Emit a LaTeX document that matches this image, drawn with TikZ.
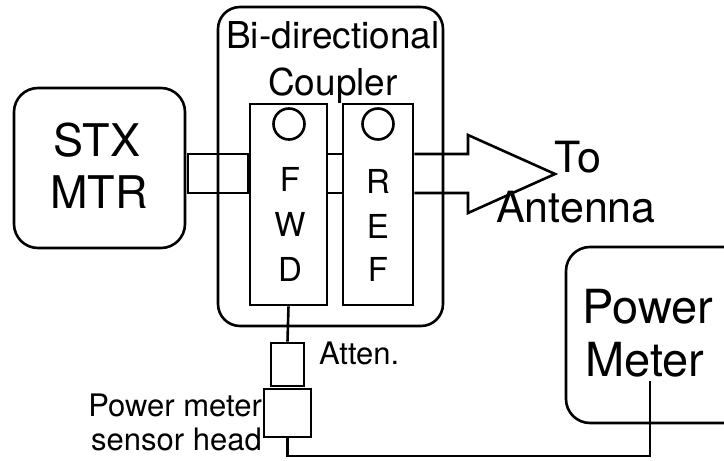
\documentclass[tikz,border=0pt]{standalone}
\usepackage{fontspec}
\setmainfont{TeX Gyre Heros}
\usetikzlibrary{positioning}
\tikzset{
  unit/.style={draw, line width=2.6pt, inner sep=0pt},
  rbox/.style={unit, rounded corners=24pt},
  sbox/.style={unit},
  wire/.style={line width=2.6pt, line join=miter},
  lbl/.style={inner sep=0pt, anchor=base},
  big/.style={font=\fontsize{45}{54}\selectfont},
  mid/.style={font=\fontsize{37}{44}\selectfont},
  sml/.style={font=\fontsize{31}{37}\selectfont},
  let/.style={font=\fontsize{33}{40}\selectfont},
}

\begin{document}
\begin{tikzpicture}[x=1pt, y=-1pt]
  \useasboundingbox (0,0) rectangle (724,461);
  \clip (0,0) rectangle (724,461);
  % boxes
  \node[rbox, minimum width=171pt, minimum height=160pt] (stx) at (99.5,168) {};
  \node[rbox, rounded corners=22pt, minimum width=225pt, minimum height=319pt] (cpl) at (330.5,166.5) {};
  \node[sbox, minimum width=77pt, minimum height=201pt] (fwd) at (288.5,204.5) {};
  \node[sbox, minimum width=70pt, minimum height=201pt] (ref) at (378,204.5) {};
  \node[rbox, minimum width=194pt, minimum height=176pt] (pm) at (663,335) {};
  \node[sbox, minimum width=33pt, minimum height=43pt] (att) at (287.5,364.5) {};
  \node[sbox, minimum width=47pt, minimum height=48pt] (head) at (287.5,413) {};
  % port circles
  \node[unit, circle, minimum size=31pt] (fwdport) at (289,124) {};
  \node[unit, circle, minimum size=31pt] (refport) at (378,124) {};
  % waveguide
  \coordinate (wgT) at (0,154);
  \coordinate (wgB) at (0,193);
  \coordinate (tip) at (555,174);
  \draw[wire] (188,154) rectangle (fwd.west |- wgB);
  \draw[wire] (fwd.east |- wgT) -- (ref.west |- wgT);
  \draw[wire] (fwd.east |- wgB) -- (ref.west |- wgB);
  \draw[wire] (ref.east |- wgT) -- (468,154) -- (468,135) -- (tip)
    -- (468,213) -- (468,193) -- (ref.east |- wgB);
  % sensor line
  \coordinate (pmin) at (650,381);
  \draw[wire] (fwd.south) -- (att.north);
  \draw[wire] (head.south) -- (head.south |- 0,456) -- (pmin |- 0,456) -- (pmin);
  % labels
  \node[lbl, big] (stxA) at (97,156) {STX};
  \node[lbl, big] (stxB) at (99,208) {MTR};
  \node[lbl, mid] (cplA) at (333,48) {Bi-directional};
  \node[lbl, mid] (cplB) at (333,95) {Coupler};
  \node[lbl, let] (fwd1) at (290,191) {F};
  \node[lbl, let] (fwd2) at (290,236) {W};
  \node[lbl, let] (fwd3) at (290,281) {D};
  \node[lbl, let] (ref1) at (378,193) {R};
  \node[lbl, let] (ref2) at (378,238) {E};
  \node[lbl, let] (ref3) at (378,281) {F};
  \node[lbl, font=\fontsize{43}{52}\selectfont] (to) at (578,172) {To};
  \node[lbl, font=\fontsize{43}{52}\selectfont] (ant) at (576,222) {Antenna};
  \node[lbl, font=\fontsize{47}{56}\selectfont] (pmA) at (648,323) {Power};
  \node[lbl, font=\fontsize{47}{56}\selectfont] (pmB) at (645,376) {Meter};
  \node[lbl, sml, anchor=base west] (attL) at (319,364) {Atten.};
  \node[lbl, sml, anchor=base east] (headA) at (262,416) {Power meter};
  \node[lbl, sml, anchor=base east] (headB) at (262,450) {sensor head};
\end{tikzpicture}
\end{document}
